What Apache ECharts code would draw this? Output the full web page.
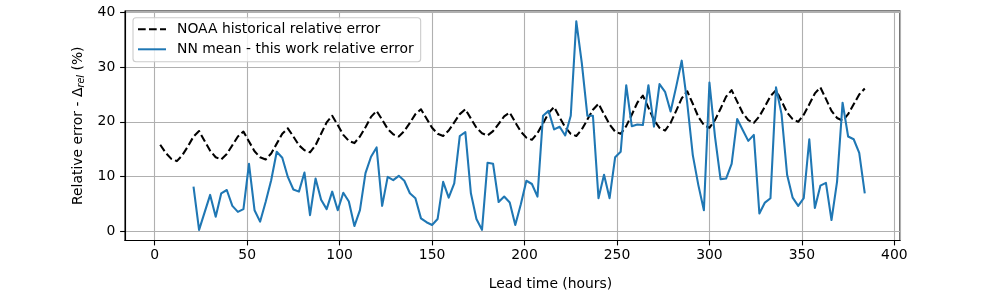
<!DOCTYPE html>
<html>
<head>
<meta charset="utf-8">
<script src="https://cdn.jsdelivr.net/npm/echarts@6/dist/echarts.min.js"></script>
<style>
html,body{margin:0;padding:0;background:#fff;}
#chart{width:1000px;height:300px;}
</style>
</head>
<body>
<div id="chart"></div>
<script>
// NOAA historical relative error (every 3 h, 3..384)
var noaaHours = [];
for (var h = 3; h <= 384; h += 3) noaaHours.push(h);
var noaaValues = [
15.8,14.3,13.2,12.8,13.9,15.5,17.3,18.3,16.5,14.7,
13.5,13.1,14.1,15.7,17.3,18.2,16.4,14.6,13.5,13.1,
14.2,16.0,17.8,18.8,17.3,15.7,14.8,14.4,15.7,17.8,
19.9,21.1,19.4,17.6,16.5,16.1,17.3,19.0,20.9,22.0,
20.4,18.7,17.7,17.3,18.3,19.8,21.4,22.3,20.6,18.9,
17.8,17.4,18.4,19.9,21.4,22.3,20.6,18.9,17.9,17.5,
18.3,19.6,21.0,21.7,19.9,18.2,17.1,16.7,17.9,19.7,
21.6,22.7,20.8,19.0,17.8,17.4,18.6,20.4,22.2,23.3,
21.4,19.5,18.2,17.8,19.2,21.3,23.5,24.8,22.6,20.3,
18.9,18.4,19.8,22.0,24.3,25.6,23.3,20.9,19.4,18.9,
20.3,22.4,24.6,25.8,23.7,21.6,20.3,19.8,21.0,22.8,
24.7,25.8,23.8,21.7,20.5,20.0,21.3,23.2,25.2,26.3,
24.2,22.0,20.7,20.2,21.4,23.2,25.0,26.1
];
// NN mean - this work relative error (every 3 h, 21..384)
var nnHours = [];
for (var k = 21; k <= 384; k += 3) nnHours.push(k);
var nnValues = [
8.1,0.2,3.4,6.6,2.6,6.9,7.5,4.6,3.5,4.0,
12.3,3.8,1.7,5.3,9.3,14.5,13.4,9.9,7.6,7.2,
10.7,2.9,9.6,5.7,4.0,7.2,3.8,7.0,5.4,0.9,
3.8,10.6,13.6,15.3,4.6,9.9,9.3,10.1,9.2,6.9,
6.0,2.3,1.6,1.1,2.2,9.0,6.1,8.7,17.4,18.1,
6.9,2.2,0.2,12.5,12.3,5.3,6.3,5.2,1.1,4.9,
9.2,8.6,6.3,21.1,22.0,18.6,19.1,17.5,21.1,38.4,
30.7,21.1,21.1,6.0,10.3,6.0,13.5,14.5,26.7,19.2,
19.5,19.4,26.7,19.1,26.9,25.5,21.9,26.4,31.2,23.4,
13.9,8.4,3.8,27.2,17.3,9.5,9.6,12.3,20.5,18.5,
16.5,17.6,3.2,5.2,6.0,26.3,21.4,10.3,6.1,4.6,
6.0,16.8,4.2,8.3,8.8,2.0,9.0,23.5,17.3,16.8,
14.3,6.9
];
var seriesNames = ['NOAA historical relative error', 'NN mean - this work relative error'];

function pairs(xs, ys){ return xs.map(function(x,i){ return [x, ys[i]]; }); }

var FONT = 'DejaVu Sans';
var FS = 13.9;
var chart = echarts.init(document.getElementById('chart'), null, {renderer:'canvas'});
chart.setOption({
  animation:false,
  backgroundColor:'#fff',
  grid:{left:125, right:100, top:11, bottom:59.5, show:true, borderColor:'#000', borderWidth:1.1, containLabel:false},
  legend:{
    orient:'vertical', left:133, top:17.7,
    padding:[4.6,7,5.5,4],
    itemWidth:28, itemHeight:14, itemGap:6,
    backgroundColor:'rgba(255,255,255,0.8)', borderColor:'#cccccc', borderWidth:1.1, borderRadius:3,
    textStyle:{fontFamily:FONT, fontSize:FS, color:'#000', padding:[0,0,0,6]},
    itemStyle:{color:'rgba(0,0,0,0)', borderColor:'rgba(0,0,0,0)', borderWidth:0},
    data:seriesNames
  },
  xAxis:{
    type:'value', min:-16.05, max:403.05, splitNumber:8,
    name:'Lead time (hours)', nameLocation:'middle', nameGap:37,
    nameTextStyle:{fontFamily:FONT, fontSize:FS, color:'#000', padding:[0,0,0,76]},
    axisLine:{show:true, onZero:false, lineStyle:{color:'#000', width:1.1}},
    axisTick:{show:true, length:4.9, lineStyle:{color:'#000', width:1.1}},
    axisLabel:{fontFamily:FONT, fontSize:FS, color:'#000', margin:8, showMinLabel:false, showMaxLabel:false},
    splitLine:{show:true, lineStyle:{color:'#b0b0b0', width:1.1}}
  },
  yAxis:{
    type:'value', min:-1.75, max:40.3, splitNumber:4,
    name:'{a|Relative error - Δ}{s|rel}{a| (%)}', nameLocation:'middle', nameGap:34,
    nameTextStyle:{rich:{
      a:{fontFamily:FONT, fontSize:FS, color:'#000', lineHeight:16},
      s:{fontFamily:FONT, fontSize:9.7, fontStyle:'italic', color:'#000', lineHeight:16, verticalAlign:'bottom'}
    }},
    axisLine:{show:true, onZero:false, lineStyle:{color:'#000', width:1.1}},
    axisTick:{show:true, length:4.9, lineStyle:{color:'#000', width:1.1}},
    axisLabel:{fontFamily:FONT, fontSize:FS, color:'#000', margin:9.7, showMinLabel:false, showMaxLabel:false},
    splitLine:{show:true, lineStyle:{color:'#b0b0b0', width:1.1}}
  },
  series:[
    {name:seriesNames[0], type:'line', data:pairs(noaaHours, noaaValues), symbol:'none', showSymbol:false,
     lineStyle:{color:'#000', width:2.08, type:[7.7,3.3], join:'round', cap:'butt'}, itemStyle:{color:'#000'}},
    {name:seriesNames[1], type:'line', data:pairs(nnHours, nnValues), symbol:'none', showSymbol:false,
     lineStyle:{color:'#1f77b4', width:2.08, join:'round'}, itemStyle:{color:'#1f77b4'}}
  ]
});
</script>
</body>
</html>
